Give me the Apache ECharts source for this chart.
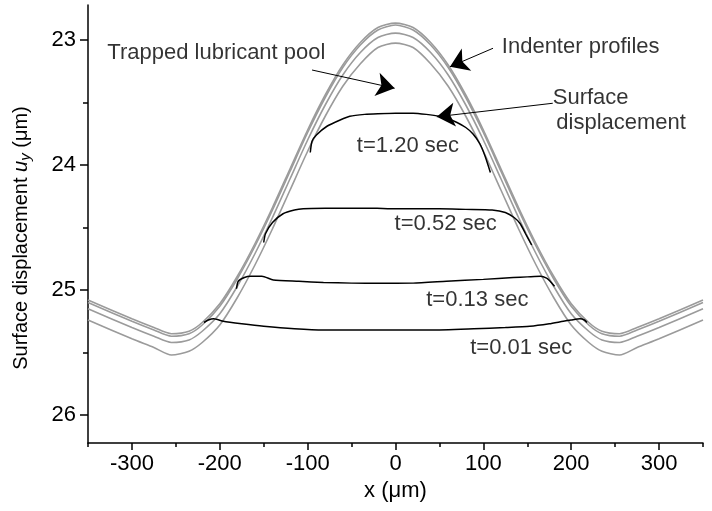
<!DOCTYPE html>
<html>
<head>
<meta charset="utf-8">
<script src="https://cdn.jsdelivr.net/npm/echarts@6/dist/echarts.min.js"></script>
<style>
    html, body { margin: 0; padding: 0; background: #fff; }
    #chart { width: 712px; height: 511px; }
</style>
</head>
<body>
<div id="chart"></div>
<script>
// Indenter profiles (4 grey lines), sampled at the same x positions
var indenterX = [-350, -300, -275, -255, -235, -220, -200, -180, -160, -140, -120, -100, -80, -60, -40, -20, 0,
    20, 40, 60, 80, 100, 120, 140, 160, 180, 200, 220, 235, 255, 275, 300, 350];
var indenterA = [25.08, 25.23, 25.30, 25.35, 25.33, 25.26, 25.11, 24.89, 24.63, 24.34, 24.03, 23.72, 23.44, 23.20, 23.02, 22.90, 22.865,
    22.90, 23.02, 23.20, 23.44, 23.72, 24.03, 24.34, 24.63, 24.89, 25.11, 25.26, 25.33, 25.35, 25.30, 25.23, 25.08];
var indenterB = [25.10, 25.25, 25.32, 25.37, 25.35, 25.28, 25.13, 24.91, 24.65, 24.36, 24.05, 23.74, 23.46, 23.22, 23.04, 22.92, 22.88,
    22.92, 23.04, 23.22, 23.46, 23.74, 24.05, 24.36, 24.65, 24.91, 25.13, 25.28, 25.35, 25.37, 25.32, 25.25, 25.10];
var indenterC = [25.15, 25.30, 25.37, 25.42, 25.40, 25.33, 25.19, 24.97, 24.71, 24.42, 24.11, 23.80, 23.52, 23.28, 23.10, 22.98, 22.945,
    22.98, 23.10, 23.28, 23.52, 23.80, 24.11, 24.42, 24.71, 24.97, 25.19, 25.33, 25.40, 25.42, 25.37, 25.30, 25.15];
var indenterD = [25.24, 25.39, 25.46, 25.52, 25.49, 25.42, 25.28, 25.06, 24.80, 24.51, 24.20, 23.89, 23.61, 23.37, 23.19, 23.06, 23.025,
    23.06, 23.19, 23.37, 23.61, 23.89, 24.20, 24.51, 24.80, 25.06, 25.28, 25.42, 25.49, 25.52, 25.46, 25.39, 25.24];

// Surface displacement at each time
var t120X = [-97, -95, -90, -78, -63, -52, -35, -20, 0, 20, 35, 50, 60, 70, 80, 88, 96, 102, 108];
var t120Y = [23.90, 23.81, 23.76, 23.69, 23.64, 23.61, 23.595, 23.59, 23.586, 23.586, 23.595, 23.61, 23.63, 23.66, 23.70, 23.75, 23.83, 23.93, 24.06];

var t052X = [-150, -148, -140, -128, -115, -105, -80, -50, -21, -6, 20, 50, 80, 110, 125, 135, 142, 148, 155];
var t052Y = [24.62, 24.55, 24.46, 24.39, 24.36, 24.35, 24.346, 24.345, 24.346, 24.35, 24.35, 24.35, 24.355, 24.36, 24.38, 24.42, 24.47, 24.55, 24.64];

var t013X = [-181, -179, -172, -165, -152, -139, -110, -82, -50, -18, 20, 58, 100, 134, 150, 165, 172, 176, 181];
var t013Y = [24.99, 24.93, 24.90, 24.89, 24.89, 24.92, 24.93, 24.94, 24.945, 24.946, 24.945, 24.93, 24.915, 24.90, 24.895, 24.89, 24.905, 24.93, 24.97];

var t001X = [-218, -213, -207, -196, -175, -150, -115, -82, -18, 40, 89, 125, 153, 175, 191, 200, 210, 215, 218];
var t001Y = [25.26, 25.24, 25.23, 25.25, 25.27, 25.29, 25.31, 25.32, 25.32, 25.32, 25.31, 25.30, 25.29, 25.27, 25.25, 25.24, 25.23, 25.24, 25.26];

// Axis ticks
var xTicks = [-300, -200, -100, 0, 100, 200, 300];
var xMinorTicks = [-350, -250, -150, -50, 50, 150, 250, 350];
var yTicks = [23, 24, 25, 26];
var yMinorTicks = [23.5, 24.5, 25.5];

// Text annotations (left edge / vertical centre, in data units)
var noteTexts = ['Trapped lubricant pool', 'Indenter profiles', 'Surface', 'displacement',
    't=1.20 sec', 't=0.52 sec', 't=0.13 sec', 't=0.01 sec'];
var noteX = [-328, 121, 179, 183, -44, -1, 35, 85];
var noteY = [23.10, 23.055, 23.46, 23.66, 23.85, 24.47, 25.08, 25.46];

// Arrows: tail -> head
var arrowFrom = [[-95, 23.24], [111, 23.066], [179, 23.506]];
var arrowTo = [[-1, 23.386], [62, 23.214], [47, 23.614]];


function pairs(xs, ys) {
    var out = [];
    for (var i = 0; i < xs.length; i++) out.push([xs[i], ys[i]]);
    return out;
}

var greyLine = { color: '#9b9b9b', width: 1.6 };
var blackLine = { color: '#000', width: 1.5 };
var textFont = "'Liberation Sans', Arial, sans-serif";

var series = [];
[indenterA, indenterB, indenterC, indenterD].forEach(function (ys) {
    series.push({ type: 'line', data: pairs(indenterX, ys), symbol: 'none', smooth: 0.25, lineStyle: greyLine, z: 2 });
});
[[t120X, t120Y], [t052X, t052Y], [t013X, t013Y], [t001X, t001Y]].forEach(function (c) {
    series.push({ type: 'line', data: pairs(c[0], c[1]), symbol: 'none', smooth: 0.2, lineStyle: blackLine, z: 3 });
});

var notes = [];
for (var i = 0; i < noteTexts.length; i++) {
    notes.push({ value: [noteX[i], noteY[i]], name: noteTexts[i] });
}
var arrows = [];
for (var j = 0; j < arrowFrom.length; j++) {
    arrows.push([{ coord: arrowFrom[j] }, { coord: arrowTo[j] }]);
}

series.push({
    type: 'scatter',
    data: notes,
    symbolSize: 0,
    silent: true,
    z: 5,
    label: {
        show: true,
        position: 'right',
        distance: 0,
        formatter: '{b}',
        color: '#000',
        fontFamily: textFont,
        fontSize: 22
    },
    markLine: {
        silent: true,
        symbol: ['none', 'arrow'],
        symbolSize: 18,
        label: { show: false },
        lineStyle: { color: '#000', width: 1, type: 'solid' },
        data: arrows
    }
});

var axisLine = { show: true, onZero: false, lineStyle: { color: '#000', width: 1.5 } };
var hiddenLine = { show: false, onZero: false };

var option = {
    backgroundColor: '#fff',
    animation: false,
    grid: { left: 88, right: 9, top: 5, bottom: 68 },
    xAxis: [
        {
            type: 'value', min: -350, max: 350,
            axisLine: axisLine,
            axisTick: { customValues: xTicks, length: 7, lineStyle: { color: '#000', width: 1.5 } },
            axisLabel: { customValues: xTicks, margin: 10, color: '#000', fontFamily: textFont, fontSize: 22 },
            splitLine: { show: false },
            name: 'x (μm)', nameLocation: 'middle', nameGap: 36,
            nameTextStyle: { color: '#000', fontFamily: textFont, fontSize: 22 }
        },
        {
            type: 'value', min: -350, max: 350, position: 'bottom',
            axisLine: hiddenLine,
            axisTick: { customValues: xMinorTicks, length: 4, lineStyle: { color: '#000', width: 1.5 } },
            axisLabel: { show: false },
            splitLine: { show: false }
        }
    ],
    yAxis: [
        {
            type: 'value', inverse: true, min: 22.72, max: 26.224,
            axisLine: axisLine,
            axisTick: { customValues: yTicks, length: 8, lineStyle: { color: '#000', width: 1.5 } },
            axisLabel: { customValues: yTicks, margin: 12, color: '#000', fontFamily: textFont, fontSize: 22 },
            splitLine: { show: false },
            name: 'Surface displacement {i|u}{s|y} (μm)', nameLocation: 'middle', nameGap: 55,
            nameTextStyle: {
                color: '#000', fontFamily: textFont, fontSize: 20,
                padding: [0, 28, 0, 0],
                rich: {
                    i: { fontStyle: 'italic', fontFamily: textFont, fontSize: 20, color: '#000' },
                    s: { fontStyle: 'italic', fontFamily: textFont, fontSize: 15, color: '#000', padding: [8, 0, 0, 0] }
                }
            }
        },
        {
            type: 'value', inverse: true, min: 22.72, max: 26.224, position: 'left',
            axisLine: hiddenLine,
            axisTick: { customValues: yMinorTicks, length: 5, lineStyle: { color: '#000', width: 1.5 } },
            axisLabel: { show: false },
            splitLine: { show: false }
        }
    ],
    series: series
};

var myChart = echarts.init(document.getElementById('chart'));
myChart.setOption(option);
</script>
</body>
</html>
